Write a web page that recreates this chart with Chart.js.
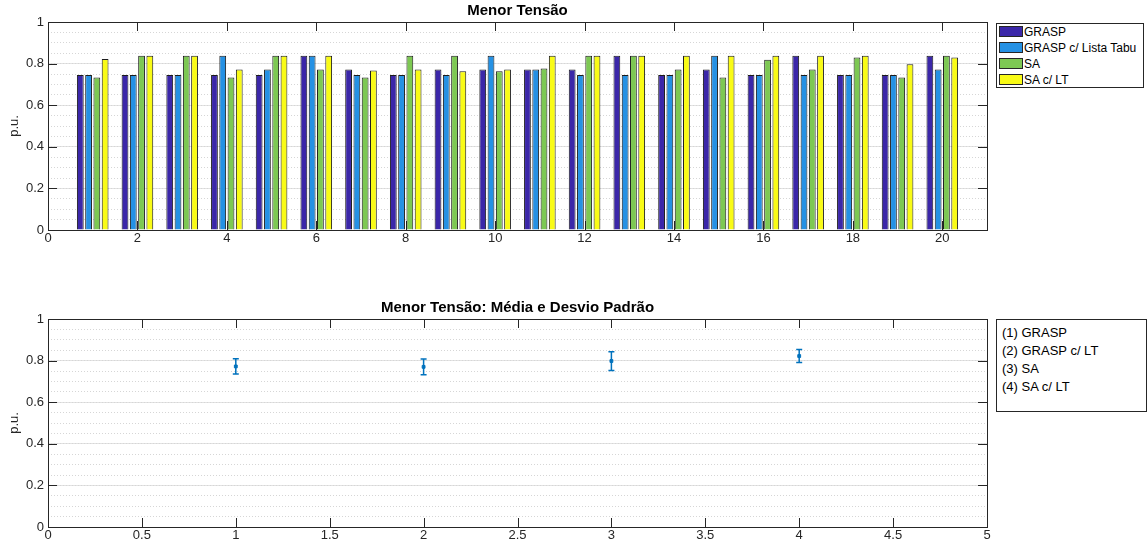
<!DOCTYPE html>
<html>
<head>
<meta charset="utf-8">
<script src="https://cdn.jsdelivr.net/npm/chart.js@4.4.0/dist/chart.umd.min.js"></script>
<style>
  body { margin: 0; background: #fff; font-family: "Liberation Sans", Arial, sans-serif; }
  .wrap { position: absolute; left: 0; width: 1148px; }
  .legend { position: absolute; background: #fff; border: 1px solid #262626; box-sizing: border-box; color: #000; white-space: nowrap; }
  .row { position: relative; height: 16px; line-height: 16px; font-size: 12px; padding-left: 27px; }
  .sw { position: absolute; left: 2px; top: 2px; width: 22px; height: 9px; border: 1px solid #262626; }
  .row2 { height: 18px; line-height: 18px; font-size: 13px; }
</style>
</head>
<body>
<div class="wrap" style="top:0;height:260px"><canvas id="c1"></canvas></div>
<div class="wrap" style="top:297px;height:251px"><canvas id="c2"></canvas></div>
<div id="leg1" class="legend" style="left:996px;top:23px;width:148px;height:65px"></div>
<div id="leg2" class="legend" style="left:996px;top:319px;width:151px;height:93px;padding:4px 0 0 5px"></div>
<script>
// dados
const runs = [1, 2, 3, 4, 5, 6, 7, 8, 9, 10, 11, 12, 13, 14, 15, 16, 17, 18, 19, 20];
const grasp   = [0.745, 0.745, 0.745, 0.745, 0.745, 0.838, 0.772, 0.745, 0.772, 0.772, 0.772, 0.772, 0.838, 0.745, 0.772, 0.745, 0.838, 0.745, 0.745, 0.838];
const graspLT = [0.745, 0.745, 0.745, 0.838, 0.772, 0.838, 0.745, 0.745, 0.745, 0.838, 0.772, 0.745, 0.745, 0.745, 0.838, 0.745, 0.745, 0.745, 0.745, 0.772];
const sa      = [0.733, 0.838, 0.838, 0.733, 0.838, 0.772, 0.733, 0.838, 0.838, 0.763, 0.776, 0.838, 0.838, 0.772, 0.733, 0.819, 0.772, 0.829, 0.733, 0.838];
const saLT    = [0.822, 0.838, 0.838, 0.772, 0.838, 0.838, 0.767, 0.772, 0.763, 0.772, 0.838, 0.838, 0.838, 0.838, 0.838, 0.838, 0.838, 0.838, 0.797, 0.829];
const seriesNames = ['GRASP', 'GRASP c/ Lista Tabu', 'SA', 'SA c/ LT'];
const seriesColors = ['#3b27a9', '#2591e4', '#7dc853', '#f9fb16'];

const methods = [1, 2, 3, 4];
const methodNames = ['(1) GRASP', '(2) GRASP c/ LT', '(3) SA', '(4) SA c/ LT'];
const means = [0.772, 0.770, 0.798, 0.822];
const stds  = [0.037, 0.038, 0.045, 0.031];

const xTicksTop = [0, 2, 4, 6, 8, 10, 12, 14, 16, 18, 20];
const xTicksBot = [0, 0.5, 1, 1.5, 2, 2.5, 3, 3.5, 4, 4.5, 5];
const xLabelsBot = ['0', '0.5', '1', '1.5', '2', '2.5', '3', '3.5', '4', '4.5', '5'];
const yTicks = [0, 0.2, 0.4, 0.6, 0.8, 1];
const yLabels = ['0', '0.2', '0.4', '0.6', '0.8', '1'];

const AX = '#262626';
const FONT = '"Liberation Sans", Arial, sans-serif';
Chart.defaults.font.family = FONT;
Chart.defaults.color = AX;

// caixa e ticks internos estilo matlab
const boxTicks = {
  id: 'boxTicks',
  beforeDatasetsDraw(chart) {
    const { ctx, chartArea: a, scales } = chart;
    const L = 9;
    ctx.save();
    ctx.strokeStyle = AX;
    ctx.lineWidth = 1;
    ctx.beginPath();
    scales.x.ticks.forEach(t => {
      const px = Math.round(scales.x.getPixelForValue(t.value)) + 0.5;
      if (px < a.left + 2 || px > a.right - 2) return;
      ctx.moveTo(px, a.bottom); ctx.lineTo(px, a.bottom - L);
      ctx.moveTo(px, a.top); ctx.lineTo(px, a.top + L);
    });
    scales.y.ticks.forEach(t => {
      const py = Math.round(scales.y.getPixelForValue(t.value)) + 0.5;
      if (py < a.top + 2 || py > a.bottom - 2) return;
      ctx.moveTo(a.left, py); ctx.lineTo(a.left + L, py);
      ctx.moveTo(a.right, py); ctx.lineTo(a.right - L, py);
    });
    ctx.stroke();
    ctx.restore();
  },
  afterDatasetsDraw(chart) {
    const { ctx, chartArea: a } = chart;
    ctx.save();
    ctx.strokeStyle = AX;
    ctx.lineWidth = 1;
    ctx.strokeRect(Math.round(a.left) + 0.5, Math.round(a.top) + 0.5, Math.round(a.width), Math.round(a.height));
    ctx.restore();
  }
};

// barras de erro (media +- desvio)
const errorBars = {
  id: 'errorBars',
  afterDatasetsDraw(chart) {
    const { ctx, scales } = chart;
    ctx.save();
    ctx.strokeStyle = '#0072bd';
    ctx.lineWidth = 1.5;
    ctx.beginPath();
    methods.forEach((m, i) => {
      const px = scales.x.getPixelForValue(m);
      const top = scales.y.getPixelForValue(means[i] + stds[i]);
      const bot = scales.y.getPixelForValue(means[i] - stds[i]);
      ctx.moveTo(px, top); ctx.lineTo(px, bot);
      ctx.moveTo(px - 3, top); ctx.lineTo(px + 3, top);
      ctx.moveTo(px - 3, bot); ctx.lineTo(px + 3, bot);
    });
    ctx.stroke();
    ctx.restore();
  }
};

function yScales() {
  return {
    y: {
      min: 0, max: 1,
      afterBuildTicks: s => { s.ticks = yTicks.map(v => ({ value: v })); },
      afterFit: s => { s.width = 48; },
      ticks: { font: { size: 13 }, padding: 4, color: AX, callback: (v, i) => yLabels[i] },
      grid: { drawTicks: false, color: '#e2e2e2', lineWidth: 1 },
      border: { display: false },
      title: { display: true, text: 'p.u.', font: { size: 13 }, color: AX, padding: { top: 7, bottom: 0 } }
    },
    yMinor: {
      position: 'right',
      min: 0, max: 1,
      afterBuildTicks: s => {
        const t = [];
        for (let i = 0; i <= 20; i++) t.push({ value: i * 0.05 });
        s.ticks = t;
      },
      afterFit: s => { s.width = 0; },
      ticks: { display: false },
      grid: { drawTicks: false, color: '#d6d6d6', lineWidth: 1 },
      border: { display: false, dash: [1, 2] }
    }
  };
}

function titleOpts(text) {
  return {
    display: true, text, fullSize: false, color: '#000',
    font: { size: 15, weight: 'bold', lineHeight: 1.2 },
    padding: { top: 2, bottom: 2 }
  };
}

new Chart(document.getElementById('c1'), {
  type: 'bar',
  data: {
    datasets: seriesNames.map((name, k) => ({
      label: name,
      data: runs.map((r, i) => ({ x: r, y: [grasp, graspLT, sa, saLT][k][i] })),
      backgroundColor: seriesColors[k],
      borderColor: '#1c1c1c',
      borderWidth: 1,
      categoryPercentage: 0.74,
      barPercentage: 0.82,
      yAxisID: 'y'
    }))
  },
  options: {
    responsive: true, maintainAspectRatio: false, animation: false,
    layout: { padding: { left: 0, right: 161, top: 0, bottom: 0 } },
    plugins: { legend: { display: false }, tooltip: { enabled: false }, title: titleOpts('Menor Tensão') },
    scales: {
      x: {
        type: 'linear', min: 0, max: 21, offset: false,
        afterBuildTicks: s => { s.ticks = xTicksTop.map(v => ({ value: v })); },
        afterFit: s => { s.height = 30; },
        ticks: { font: { size: 13 }, padding: 1, color: AX, maxRotation: 0, callback: v => String(v) },
        grid: { display: false, drawTicks: false },
        border: { display: false }
      },
      ...yScales()
    }
  },
  plugins: [boxTicks]
});

new Chart(document.getElementById('c2'), {
  type: 'scatter',
  data: {
    datasets: [{
      label: 'Média',
      data: methods.map((m, i) => ({ x: m, y: means[i] })),
      backgroundColor: '#0072bd',
      borderColor: '#0072bd',
      pointStyle: 'rect',
      pointRadius: 2,
      yAxisID: 'y'
    }]
  },
  options: {
    responsive: true, maintainAspectRatio: false, animation: false,
    layout: { padding: { left: 0, right: 161, top: 0, bottom: 0 } },
    plugins: { legend: { display: false }, tooltip: { enabled: false }, title: titleOpts('Menor Tensão: Média e Desvio Padrão') },
    scales: {
      x: {
        type: 'linear', min: 0, max: 5, offset: false,
        afterBuildTicks: s => { s.ticks = xTicksBot.map(v => ({ value: v })); },
        afterFit: s => { s.height = 21; },
        ticks: { font: { size: 13 }, padding: 1, color: AX, maxRotation: 0, callback: (v, i) => xLabelsBot[i] },
        grid: { display: false, drawTicks: false },
        border: { display: false }
      },
      ...yScales()
    }
  },
  plugins: [boxTicks, errorBars]
});

// legendas
const leg1 = document.getElementById('leg1');
seriesNames.forEach((n, k) => {
  const r = document.createElement('div');
  r.className = 'row';
  r.innerHTML = '<span class="sw" style="background:' + seriesColors[k] + '"></span>';
  r.appendChild(document.createTextNode(n));
  leg1.appendChild(r);
});
const leg2 = document.getElementById('leg2');
methodNames.forEach(n => {
  const r = document.createElement('div');
  r.className = 'row2';
  r.textContent = n;
  leg2.appendChild(r);
});
</script>
</body>
</html>
